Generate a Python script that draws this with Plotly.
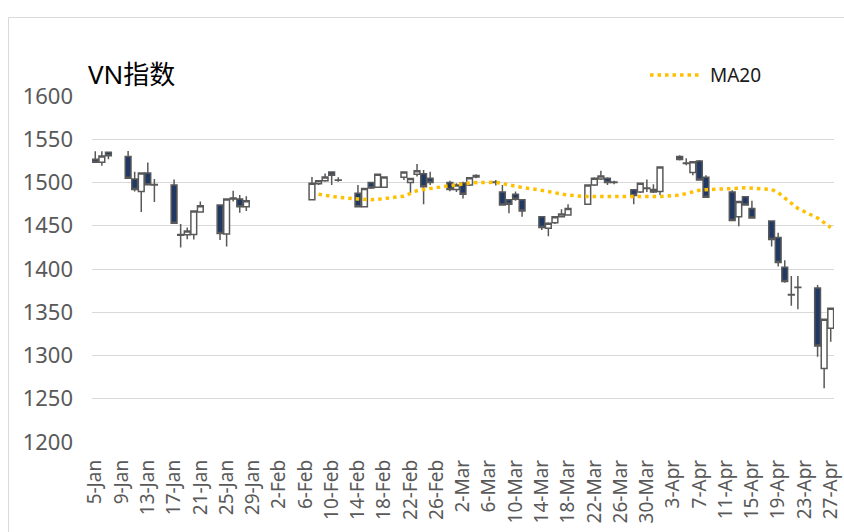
import plotly.graph_objects as go

dates = [
    "2022-01-05", "2022-01-06", "2022-01-07", "2022-01-10", "2022-01-11", "2022-01-12",
    "2022-01-13", "2022-01-14", "2022-01-17", "2022-01-18", "2022-01-19", "2022-01-20",
    "2022-01-21", "2022-01-24", "2022-01-25", "2022-01-26", "2022-01-27", "2022-01-28",
    "2022-02-07", "2022-02-08", "2022-02-09", "2022-02-10", "2022-02-11", "2022-02-14",
    "2022-02-15", "2022-02-16", "2022-02-17", "2022-02-18", "2022-02-21", "2022-02-22",
    "2022-02-23", "2022-02-24", "2022-02-25", "2022-02-28",
    "2022-03-01", "2022-03-02", "2022-03-03", "2022-03-04", "2022-03-07", "2022-03-08",
    "2022-03-09", "2022-03-10", "2022-03-11", "2022-03-14", "2022-03-15", "2022-03-16",
    "2022-03-17", "2022-03-18", "2022-03-21", "2022-03-22", "2022-03-23", "2022-03-24",
    "2022-03-25", "2022-03-28", "2022-03-29", "2022-03-30", "2022-03-31",
    "2022-04-01", "2022-04-04", "2022-04-05", "2022-04-06", "2022-04-07", "2022-04-08",
    "2022-04-12", "2022-04-13", "2022-04-14", "2022-04-15", "2022-04-18", "2022-04-19",
    "2022-04-20", "2022-04-21", "2022-04-22", "2022-04-25", "2022-04-26", "2022-04-27",
]

open_ = [
    1527, 1523.5, 1535, 1530, 1504, 1489.5, 1511, 1497.8, 1497, 1440, 1439.5, 1440,
    1466, 1474, 1440.5, 1481, 1481, 1472,
    1480, 1498.5, 1502, 1512, 1503, 1487.5, 1472, 1500, 1494.5, 1494.5, 1506, 1500,
    1509.5, 1510, 1505, 1500,
    1492, 1499.5, 1497, 1506.5, 1500.5, 1489, 1480, 1486.5, 1480, 1460.5, 1447, 1453.5,
    1460.5, 1462.5, 1475, 1497, 1504, 1505, 1500, 1491.5, 1489, 1493, 1489,
    1489.5, 1530, 1522.5, 1511.5, 1525, 1506, 1489, 1460.5, 1483.5, 1470, 1455.5, 1436.5,
    1402, 1370.5, 1379, 1378, 1285, 1331.5,
]
high = [
    1536, 1536, 1535.5, 1536.5, 1512.5, 1511.5, 1523, 1504, 1503.5, 1452, 1448, 1468,
    1478, 1475, 1481.5, 1490.5, 1485.5, 1484,
    1506.5, 1503, 1510.5, 1513, 1506, 1497, 1494, 1501, 1510, 1507, 1513, 1505,
    1521.5, 1514.5, 1512.5, 1502,
    1499, 1501, 1506, 1509.5, 1503, 1497, 1481, 1489.5, 1481, 1461, 1454, 1461,
    1469, 1475, 1497.5, 1506, 1513.5, 1506, 1502, 1492, 1499.5, 1503.5, 1498,
    1518.5, 1531.5, 1528, 1524.5, 1526, 1508.5, 1491, 1478.5, 1484, 1479, 1456, 1442,
    1410, 1392, 1392, 1381.5, 1342.5, 1355,
]
low = [
    1523, 1519.5, 1527, 1504.5, 1489.5, 1466, 1496.5, 1477.5, 1452.5, 1425, 1434.5, 1434,
    1465.5, 1433.5, 1426, 1478, 1465, 1467,
    1479.5, 1497, 1501, 1497, 1501, 1471.5, 1471, 1492.5, 1494, 1494, 1503, 1488,
    1507, 1475, 1497, 1490,
    1489, 1481.5, 1496, 1505, 1496.5, 1473.5, 1464.5, 1479, 1460.5, 1445, 1438, 1452,
    1460, 1462, 1474.5, 1496, 1503, 1497, 1498, 1475, 1488, 1489, 1488,
    1485.5, 1525.5, 1520, 1508.5, 1502.5, 1482.5, 1455.5, 1449.5, 1473, 1458.5, 1426, 1403,
    1384, 1357.5, 1353.5, 1298.5, 1262, 1316,
]
close = [
    1523.5, 1530.5, 1531, 1505, 1492, 1511, 1497.5, 1497, 1453, 1439, 1444, 1467,
    1473, 1441, 1481, 1482, 1472, 1479,
    1499, 1502, 1506.5, 1508.5, 1502.5, 1472, 1493, 1493.5, 1509.5, 1506.5, 1512, 1504.5,
    1513.5, 1495, 1500, 1492,
    1497, 1486.5, 1505.5, 1508, 1500, 1474, 1475, 1480.5, 1467, 1448, 1453, 1460.5,
    1463.5, 1470, 1497, 1505, 1507.5, 1500, 1500.5, 1485, 1499, 1493.5, 1492,
    1518, 1526.5, 1522, 1524, 1503, 1483, 1456, 1478, 1474, 1459, 1434, 1407.5,
    1385.5, 1370, 1378.5, 1311, 1342, 1354.5,
]

ma20_dates = dates[19:]
ma20 = [
    1486.5, 1485, 1483.5, 1482.8, 1481, 1480.5, 1480.2, 1480.5, 1481.3, 1484.2, 1487.4,
    1490.5, 1492, 1493.2, 1496.8,
    1497.4, 1498.3, 1499.3, 1500, 1500.2, 1498.5, 1497.2, 1495.8, 1494.3, 1490.9, 1489.5,
    1488.2, 1486.7, 1485.3, 1483.7, 1483.6, 1483.6, 1483.6, 1483.6, 1483.6, 1483.6,
    1483.7, 1483.7,
    1483.8, 1485.4, 1487.5, 1489.5, 1491, 1491.7, 1492.5, 1493.3, 1494, 1493.6, 1492,
    1488.3, 1482.5, 1476.5, 1470, 1459, 1454, 1448,
]

tick_dates = [
    "2022-01-05", "2022-01-09", "2022-01-13", "2022-01-17", "2022-01-21", "2022-01-25",
    "2022-01-29", "2022-02-02", "2022-02-06", "2022-02-10", "2022-02-14", "2022-02-18",
    "2022-02-22", "2022-02-26", "2022-03-02", "2022-03-06", "2022-03-10", "2022-03-14",
    "2022-03-18", "2022-03-22", "2022-03-26", "2022-03-30", "2022-04-03", "2022-04-07",
    "2022-04-11", "2022-04-15", "2022-04-19", "2022-04-23", "2022-04-27",
]
tick_labels = [
    "5-Jan", "9-Jan", "13-Jan", "17-Jan", "21-Jan", "25-Jan", "29-Jan", "2-Feb", "6-Feb",
    "10-Feb", "14-Feb", "18-Feb", "22-Feb", "26-Feb", "2-Mar", "6-Mar", "10-Mar",
    "14-Mar", "18-Mar", "22-Mar", "26-Mar", "30-Mar", "3-Apr", "7-Apr", "11-Apr",
    "15-Apr", "19-Apr", "23-Apr", "27-Apr",
]
y_ticks = [1200, 1250, 1300, 1350, 1400, 1450, 1500, 1550, 1600]

EDGE = "#595959"
NAVY = "#1F3864"
GOLD = "#FFC000"
GRID = "#D9D9D9"

fig = go.Figure()
fig.add_trace(go.Candlestick(
    x=dates, open=open_, high=high, low=low, close=close,
    increasing=dict(fillcolor="#FFFFFF", line=dict(color=EDGE, width=1.5)),
    decreasing=dict(fillcolor=NAVY, line=dict(color=EDGE, width=1.5)),
    whiskerwidth=0, showlegend=False, name="VN指数",
))
fig.add_trace(go.Scatter(
    x=ma20_dates, y=ma20, mode="lines", name="MA20", showlegend=False,
    line=dict(color=GOLD, width=3.5, dash="3.5px,4px"),
))

W, H = 844, 532
L, R, T, B = 92, 10, 96, 90
pw, ph = W - L - R, H - T - B

def px(xp):
    return (xp - L) / pw

def py(yp):
    return (H - B - yp) / ph

fig.update_layout(
    width=W, height=H,
    margin=dict(l=L, r=R, t=T, b=B, autoexpand=False),
    paper_bgcolor="#FFFFFF", plot_bgcolor="#FFFFFF",
    boxgap=0.12, boxgroupgap=0,
    xaxis=dict(
        type="date",
        range=["2022-01-04 12:00", "2022-04-27 12:00"],
        rangeslider=dict(visible=False),
        tickmode="array", tickvals=tick_dates, ticktext=tick_labels,
        tickangle=-90, showgrid=False, zeroline=False, showline=False,
        ticks="", ticklabelstandoff=13, automargin=False, ticklabeloverflow="allow",
        tickfont=dict(family="Noto Sans", size=19, color=EDGE),
    ),
    yaxis=dict(
        range=[1200, 1600], tickmode="array", tickvals=y_ticks,
        showgrid=True, gridcolor=GRID, gridwidth=1.3, zeroline=False, showline=False,
        ticks="", ticklabelstandoff=18, automargin=False,
        tickfont=dict(family="Noto Sans", size=22, color=EDGE),
    ),
    shapes=[
        dict(type="rect", xref="paper", yref="paper",
             x0=px(8.5), x1=px(900), y0=py(600), y1=py(17.5),
             line=dict(color=GRID, width=1), fillcolor="rgba(0,0,0,0)", layer="below"),
        dict(type="line", xref="paper", yref="paper",
             x0=px(650), x1=px(700), y0=py(75), y1=py(75),
             line=dict(color=GOLD, width=3.5, dash="3.5px,4px")),
    ],
    annotations=[
        dict(text="VN指数", xref="paper", yref="paper", x=px(86), y=py(74),
             xanchor="left", yanchor="middle", showarrow=False,
             font=dict(family="Noto Sans, Noto Sans CJK SC", size=26, color="#000000")),
        dict(text="MA20", xref="paper", yref="paper", x=px(708), y=py(75),
             xanchor="left", yanchor="middle", showarrow=False,
             font=dict(family="Noto Sans", size=19, color="#1A1A1A")),
    ],
)

fig.write_html(
    "out.html",
    config={"displayModeBar": False},
    post_script="document.body.style.margin='0';document.body.style.padding='0';",
)
